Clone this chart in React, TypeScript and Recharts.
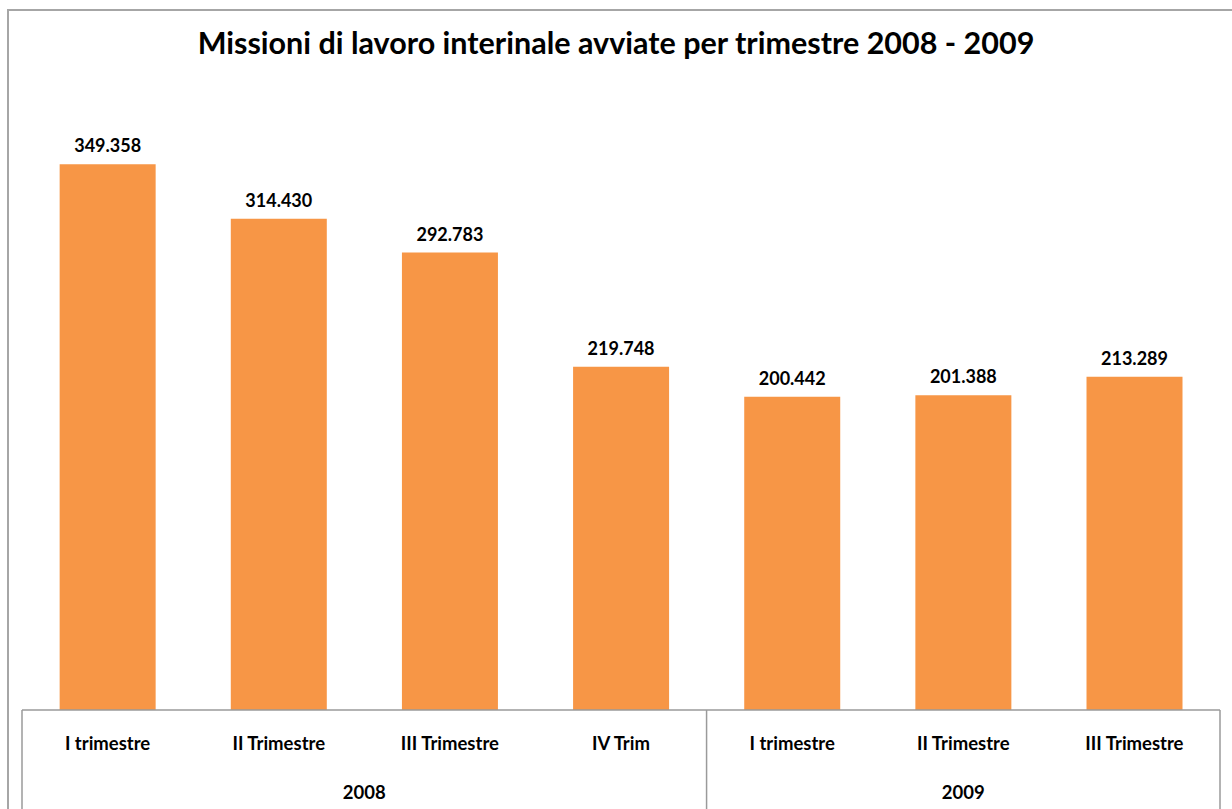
import React from 'react';
import { Bar, BarChart, LabelList, XAxis, YAxis } from 'recharts';

const quarters = [
  'I trimestre',
  'II Trimestre',
  'III Trimestre',
  'IV Trim',
  'I trimestre',
  'II Trimestre',
  'III Trimestre',
];
const years = ['2008', '2008', '2008', '2008', '2009', '2009', '2009'];
const missions = [349358, 314430, 292783, 219748, 200442, 201388, 213289];

const data = quarters.map((q, i) => ({ key: `${years[i]}-${i}`, quarter: q, year: years[i], value: missions[i] }));

const WIDTH = 1232;
const HEIGHT = 809;
const MARGIN = { top: 85, right: 12, left: 22, bottom: 0 };
const AXIS_HEIGHT = 99;
const STEP = (WIDTH - MARGIN.left - MARGIN.right) / quarters.length;
const FONT = "Lato, 'Open Sans', sans-serif";
const LINE = '#9a9a9a';

const fmt = (v: number) => String(v).replace(/\B(?=(\d{3})+(?!\d))/g, '.');

// groups of consecutive categories sharing a year
const groups = years.reduce<{ year: string; start: number; end: number }[]>((acc, y, i) => {
  const last = acc[acc.length - 1];
  if (last && last.year === y) last.end = i;
  else acc.push({ year: y, start: i, end: i });
  return acc;
}, []);

const Tick = (props: any) => {
  const { x, y, payload } = props;
  const i: number = payload.index;
  const left = x - STEP / 2;
  const bottom = HEIGHT;
  const group = groups.find((g) => g.start === i);
  return (
    <g>
      <text x={x} y={y + 40} textAnchor="middle" fontFamily={FONT} fontWeight={700} fontSize={18.5} fill="#000">
        {quarters[i]}
      </text>
      {group && (
        <>
          <line x1={left} x2={left} y1={y} y2={bottom} stroke={LINE} strokeWidth={1.5} />
          <text
            x={left + ((group.end - group.start + 1) * STEP) / 2}
            y={y + 89}
            textAnchor="middle"
            fontFamily={FONT}
            fontWeight={700}
            fontSize={18.5}
            fill="#000"
          >
            {group.year}
          </text>
        </>
      )}
      {i === quarters.length - 1 && (
        <line x1={x + STEP / 2} x2={x + STEP / 2} y1={y} y2={bottom} stroke={LINE} strokeWidth={1.5} />
      )}
    </g>
  );
};

export default function App() {
  return (
    <div style={{ position: 'fixed', left: 0, top: 0, width: WIDTH, height: HEIGHT, background: '#fff', overflow: 'hidden' }}>
      <div
        style={{
          position: 'absolute',
          left: 7,
          top: 9,
          width: WIDTH + 20,
          height: HEIGHT + 20,
          borderLeft: '2px solid #a6a6a6',
          borderTop: '2px solid #a6a6a6',
        }}
      />
      <div
        style={{
          position: 'absolute',
          left: 0,
          width: WIDTH,
          top: 24,
          textAlign: 'center',
          fontFamily: FONT,
          fontWeight: 700,
          fontSize: 30.5,
          lineHeight: '36px',
          color: '#000',
        }}
      >
        Missioni di lavoro interinale avviate per trimestre 2008 - 2009
      </div>
      <BarChart width={WIDTH} height={HEIGHT} data={data} margin={MARGIN} barCategoryGap="22%">
        <XAxis
          dataKey="key"
          height={AXIS_HEIGHT}
          tickLine={false}
          tickSize={0}
          tickMargin={0}
          axisLine={{ stroke: LINE, strokeWidth: 1.5 }}
          tick={<Tick />}
          interval={0}
        />
        <YAxis hide domain={[0, 400000]} />
        <Bar dataKey="value" fill="#F79646" isAnimationActive={false}>
          <LabelList
            dataKey="value"
            position="top"
            offset={12}
            formatter={(v: any) => fmt(Number(v))}
            fontFamily={FONT}
            fontWeight={700}
            fontSize={18}
            fill="#000"
          />
        </Bar>
      </BarChart>
    </div>
  );
}
